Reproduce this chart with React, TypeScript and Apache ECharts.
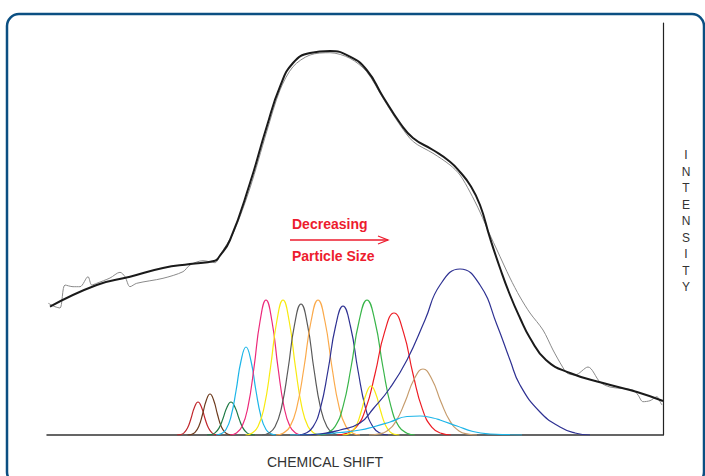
import React, { useEffect, useRef } from "react";
import * as echarts from "echarts";

// x = chemical shift (arbitrary units), y = intensity (arbitrary units)
const peakDarkRed = [[130,0],[133.5,0.4],[137,2.1],[140.5,6.9],[144,16.5],[147.5,27.8],[151,33],[154.5,27.8],[158,16.5],[161.5,6.9],[165,2.1],[168.5,0.4],[172,0]];
const peakBrown = [[140.5,0],[144.25,0.5],[148,2.6],[151.75,8.6],[155.5,20.5],[159.25,34.5],[163,41],[166.75,34.5],[170.5,20.5],[174.25,8.6],[178,2.6],[181.75,0.5],[185.5,0]];
const peakDarkGreen = [[160,0],[164,0.4],[168,2.1],[172,6.9],[176,16.5],[180,27.8],[184,33],[188,27.8],[192,16.5],[196,6.9],[200,2.1],[204,0.4],[208,0]];
const peakCyan = [[169,0],[174,1.2],[179,5.5],[184,18.5],[189,44],[194,74],[199,88],[204,74],[209,44],[214,18.5],[219,5.5],[224,1.2],[229,0]];
const peakPink = [[183,0],[189,1.8],[195,8.4],[201,28.4],[207,67.5],[213,113.5],[219,135],[225,113.5],[231,67.5],[237,28.4],[243,8.4],[249,1.8],[255,0]];
const peakYellow = [[198.5,0],[204.75,1.8],[211,8.4],[217.25,28.4],[223.5,67.5],[229.75,113.5],[236,135],[242.25,113.5],[248.5,67.5],[254.75,28.4],[261,8.4],[267.25,1.8],[273.5,0]];
const peakGray = [[215,0],[221.5,1.7],[228,8.2],[234.5,27.5],[241,65.5],[247.5,110.2],[254,131],[260.5,110.2],[267,65.5],[273.5,27.5],[280,8.2],[286.5,1.7],[293,0]];
const peakOrange = [[229,0],[236,1.8],[243,8.4],[250,28.4],[257,67.5],[264,113.5],[271,135],[278,113.5],[285,67.5],[292,28.4],[299,8.4],[306,1.8],[313,0]];
const peakNavy = [[251,0],[258.5,1.7],[266,8.1],[273.5,27.1],[281,64.5],[288.5,108.5],[296,129],[303.5,108.5],[311,64.5],[318.5,27.1],[326,8.1],[333.5,1.7],[341,0]];
const peakGreen = [[272,0],[280,1.8],[288,8.4],[296,28.4],[304,67.5],[312,113.5],[320,135],[328,113.5],[336,67.5],[344,28.4],[352,8.4],[360,1.8],[368,0]];
const peakRed = [[290,0],[299.5,1.6],[309,7.6],[318.5,25.6],[328,61],[337.5,102.6],[347,122],[356.5,102.6],[366,61],[375.5,25.6],[385,7.6],[394.5,1.6],[404,0]];
const peakSmallYellow = [[295.5,0],[300.25,0.6],[305,3.1],[309.75,10.3],[314.5,24.5],[319.25,41.2],[324,49],[328.75,41.2],[333.5,24.5],[338.25,10.3],[343,3.1],[347.75,0.6],[352.5,0]];
const peakTan = [[322,0],[331,0.9],[340,4.1],[349,13.9],[358,33],[367,55.5],[376,66],[385,55.5],[394,33],[403,13.9],[412,4.1],[421,0.9],[430,0]];
const peakLightBlue = [[243,0],[273,1],[293,2.5],[313,5],[326,8],[343,13],[360,18.5],[373,19],[386,17],[393,15],[410,9],[426,3.5],[443,1],[463,0.3],[475,0]];
const peakBigNavy = [[253,0],[273,1],[293,5],[313,12],[326,26],[343,47],[360,75],[378,115],[393,150],[413,166],[433,150],[450,110],[463,75],[473,50],[493,23],[513,8],[528,2],[543,0]];

const fitCurve = [[3,128.3],[49.7,150],[83,158.3],[116,167],[143,171],[168,174.3],[172,178],[183,195],[203,252],[219.7,308.3],[233,348.3],[246,372],[263,382],[283,384],[303,378.3],[319.7,365],[336,338.3],[353,312],[366,297],[386,285],[403,273.3],[413,263],[423,250],[433,230],[443,197],[453,167],[463,140],[473,117],[483,97],[499,75],[523,62],[556,52],[590,43],[616,34]];

const measured = [[1.3,131.7],[8,128.3],[13,127],[18,150],[26,148.3],[33,148.3],[41,158.3],[44.7,150],[49.7,151.7],[63,157],[73,162.7],[78,158.3],[83,148.3],[89.7,151.7],[116,156.7],[136,163.3],[143,170],[156,174.3],[168,172.3],[173,180],[186.3,202],[203,247],[219.7,303.3],[233,345],[246,368.3],[263,380],[283,382.3],[303,376.7],[319.7,363.3],[336,336.7],[353,310],[366.3,293.3],[386,281.7],[403,270],[413,260],[423,243],[433,223],[443,200],[450,185],[463,157],[473,138],[483,122],[496,105],[506,85],[515,69],[520,62],[528,60],[541,68],[553,53],[563,48],[586,45],[591,40],[596,33.3],[603,34.3],[610,38.3],[613,33.3],[615,30]];

const peaks = [
  { name: "p1", data: peakDarkRed, color: "#c1272d" },
  { name: "p2", data: peakBrown, color: "#6d3b1e" },
  { name: "p3", data: peakDarkGreen, color: "#1f7a45" },
  { name: "p4", data: peakCyan, color: "#1cb5e8" },
  { name: "p5", data: peakPink, color: "#ec2a7b" },
  { name: "p6", data: peakYellow, color: "#f8ea10" },
  { name: "p7", data: peakGray, color: "#5a5a5a" },
  { name: "p8", data: peakOrange, color: "#fbaa4b" },
  { name: "p9", data: peakNavy, color: "#2e3192" },
  { name: "p10", data: peakGreen, color: "#39b54a" },
  { name: "p11", data: peakRed, color: "#ed1c24" },
  { name: "p12", data: peakSmallYellow, color: "#f8ea10" },
  { name: "p13", data: peakTan, color: "#c69c6d" },
  { name: "p14", data: peakLightBlue, color: "#1cb5e8" },
  { name: "p15", data: peakBigNavy, color: "#2e3192" },
];

const FONT = "Liberation Sans, Arial, Helvetica, sans-serif";

export default function App() {
  const ref = useRef<HTMLDivElement>(null);
  useEffect(() => {
    if (!ref.current) return;
    const chart = echarts.init(ref.current, null, { renderer: "svg" });
    const series: any[] = peaks.map((p) => ({
      type: "line",
      name: p.name,
      data: p.data,
      smooth: true,
      showSymbol: false,
      lineStyle: { color: p.color, width: 1.2 },
      z: 2,
    }));
    series.push({
      type: "line",
      name: "measured",
      data: measured,
      smooth: 0.3,
      showSymbol: false,
      lineStyle: { color: "#8a8a8a", width: 1 },
      z: 3,
    });
    series.push({
      type: "line",
      name: "fit",
      data: fitCurve,
      smooth: true,
      showSymbol: false,
      lineStyle: { color: "#1a1a1a", width: 2 },
      z: 4,
    });
    chart.setOption({
      animation: false,
      backgroundColor: "#ffffff",
      grid: { left: 47, right: 42, top: 23, bottom: 41, containLabel: false },
      xAxis: {
        type: "value",
        min: 0,
        max: 616,
        axisLine: { show: true, lineStyle: { color: "#333333", width: 1.5 } },
        axisTick: { show: false },
        axisLabel: { show: false },
        splitLine: { show: false },
      },
      yAxis: {
        type: "value",
        min: 0,
        max: 412,
        position: "right",
        axisLine: { show: true, onZero: false, lineStyle: { color: "#222222", width: 1.2 } },
        axisTick: { show: false },
        axisLabel: { show: false },
        splitLine: { show: false },
      },
      series,
      graphic: [
        {
          type: "rect",
          shape: { x: 7, y: 14, width: 697, height: 470, r: 12 },
          style: { fill: "none", stroke: "#0b4f82", lineWidth: 2.5 },
          silent: true,
        },
        {
          type: "text",
          x: 292,
          y: 224,
          style: { text: "Decreasing", fill: "#ed1c2e", font: `bold 14px ${FONT}`, textVerticalAlign: "middle" },
        },
        {
          type: "text",
          x: 292,
          y: 256,
          style: { text: "Particle Size", fill: "#ed1c2e", font: `bold 14px ${FONT}`, textVerticalAlign: "middle" },
        },
        {
          type: "line",
          shape: { x1: 290, y1: 240, x2: 388, y2: 240 },
          style: { stroke: "#ed1c2e", lineWidth: 1.3 },
        },
        {
          type: "polyline",
          shape: { points: [[378, 236], [388, 240], [378, 244]] },
          style: { stroke: "#ed1c2e", lineWidth: 1.3, fill: "none" },
        },
        {
          type: "text",
          x: 325,
          y: 462,
          style: { text: "CHEMICAL SHIFT", fill: "#333333", font: `14px ${FONT}`, textAlign: "center", textVerticalAlign: "middle" },
        },
        {
          type: "text",
          x: 686,
          y: 147,
          style: {
            text: "I\nN\nT\nE\nN\nS\nI\nT\nY",
            fill: "#333333",
            font: `12px ${FONT}`,
            lineHeight: 16.5,
            textAlign: "center",
            textVerticalAlign: "top",
          },
        },
      ],
    });
    return () => chart.dispose();
  }, []);
  return (
    <div
      ref={ref}
      style={{ position: "fixed", left: 0, top: 0, width: 705, height: 476, background: "#fff" }}
    />
  );
}
